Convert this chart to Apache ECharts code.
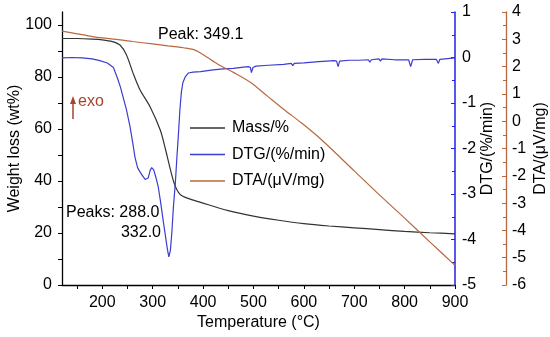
<!DOCTYPE html>
<html><head><meta charset="utf-8">
<script src="https://cdn.jsdelivr.net/npm/echarts@6/dist/echarts.min.js"></script>
<style>html,body{margin:0;padding:0;background:#fff}#c{width:550px;height:337px}</style>
</head><body><div id="c"></div>
<script>
const massT = [120,150,180,200,220,235,248,261,275,295,315,325,335,342,348,355,370,395,450,500,550,600,650,700,750,800,850,900];
const massV = [94.8,94.8,94.6,94.3,93.6,92.3,88.5,81.5,75,68.5,59.6,52.5,44.5,39.5,36.6,34.7,33.3,31.8,28.6,26.5,24.9,23.6,22.7,22.0,21.3,20.6,20.1,19.7];

const dtgT = [120,140,160,180,195,210,222,230,236,241,248,255,260,265,270,275,280,285,288,291,295,298,302,306,311,316,321,325,329,332,335,338,341,345,348,351,354,357,360,365,371,380,395,420,440,460,480,490,494,496,499,505,530,560,575,578,581,600,630,660,665,668,671,690,710,728,731,734,749,752,755,780,800,808,812,816,840,863,867,870,890,900];
const dtgV = [-0.01,0.0,-0.01,-0.03,-0.07,-0.12,-0.22,-0.45,-0.65,-0.86,-1.15,-1.52,-1.85,-2.2,-2.42,-2.52,-2.6,-2.68,-2.71,-2.65,-2.48,-2.42,-2.47,-2.62,-2.84,-3.2,-3.6,-3.9,-4.2,-4.38,-4.25,-3.85,-3.3,-2.75,-2.2,-1.7,-1.15,-0.75,-0.55,-0.42,-0.34,-0.32,-0.31,-0.27,-0.25,-0.24,-0.21,-0.2,-0.22,-0.33,-0.22,-0.19,-0.17,-0.15,-0.13,-0.18,-0.13,-0.12,-0.09,-0.07,-0.08,-0.2,-0.08,-0.06,-0.06,-0.05,-0.1,-0.05,-0.03,-0.08,-0.03,-0.05,-0.05,-0.05,-0.2,-0.05,-0.04,-0.04,-0.13,-0.04,-0.02,-0.01];

const dtaT = [120,150,180,200,228,260,300,330,349,361,380,395,409,430,461,495,529,561,595,635,700,750,800,850,900];
const dtaV = [3.3,3.2,3.1,3.05,3.0,2.92,2.83,2.76,2.72,2.69,2.63,2.5,2.33,2.08,1.78,1.41,0.9,0.42,-0.06,-0.68,-1.82,-2.7,-3.55,-4.42,-5.28];

const xLabels = [200,300,400,500,600,700,800,900];
const xTicks = [150,200,250,300,350,400,450,500,550,600,650,700,750,800,850,900];
const yLabels = [0,20,40,60,80,100];
const yTicks = [0,10,20,30,40,50,60,70,80,90,100];

const zip = (a,b) => a.map((t,i) => [t,b[i]]);
const FONT = 'Liberation Sans, Arial, sans-serif';
const FS = 16;
const C_MASS = '#333333', C_DTG = '#3c3cd0', C_DTA = '#b8683f';
const AX_DTG = '#1f1fe6', AX_DTA = '#b8683f';

const chart = echarts.init(document.getElementById('c'), null, {renderer:'canvas'});
chart.setOption({
  animation:false,
  backgroundColor:'#fff',
  textStyle:{fontFamily:FONT},
  grid:{left:62,right:95,top:12,bottom:52,containLabel:false,outerBoundsMode:'none'},
  legend:{
    orient:'vertical', left:190, top:120, padding:0, icon:'rect', itemWidth:35, itemHeight:1.3, itemGap:10.5,
    textStyle:{fontSize:FS,color:'#000',fontFamily:FONT,padding:[0,0,0,2]},
    data:['Mass/%','DTG/(%/min)','DTA/(\u03bcV/mg)']
  },
  xAxis:{
    type:'value', min:120, max:900,
    name:'Temperature (\u00b0C)', nameLocation:'middle', nameGap:30, nameMoveOverlap:false,
    nameTextStyle:{fontSize:FS,color:'#000',fontFamily:FONT},
    axisLine:{lineStyle:{color:'#000',width:1.3}},
    axisTick:{show:true,inside:false,length:4,customValues:xTicks,lineStyle:{color:'#000'}},
    axisLabel:{customValues:xLabels,fontSize:FS,color:'#000',margin:10,fontFamily:FONT},
    splitLine:{show:false}
  },
  yAxis:[
    {type:'value', min:0, max:105, position:'left',
     name:'Weight loss (wt%)', nameLocation:'middle', nameGap:39, nameMoveOverlap:false,
     nameTextStyle:{fontSize:FS,color:'#000',fontFamily:FONT},
     axisLine:{show:true,lineStyle:{color:'#000',width:1.3}},
     axisTick:{show:true,length:4,customValues:yTicks,lineStyle:{color:'#000'}},
     axisLabel:{customValues:yLabels,fontSize:FS,color:'#000',margin:10,fontFamily:FONT},
     splitLine:{show:false}},
    {type:'value', min:-5, max:1, interval:1, position:'right',
     name:'DTG/(%/min)', nameLocation:'middle', nameGap:25, nameMoveOverlap:false,
     nameTextStyle:{fontSize:FS,color:'#000',fontFamily:FONT},
     axisLine:{show:true,lineStyle:{color:AX_DTG,width:1.5}},
     axisTick:{show:true,inside:true,length:4,lineStyle:{color:AX_DTG}},
     minorTick:{show:true,splitNumber:2,length:3,lineStyle:{color:AX_DTG}},
     axisLabel:{fontSize:FS,color:'#000',margin:7,fontFamily:FONT},
     splitLine:{show:false}},
    {type:'value', min:-6, max:4, interval:1, position:'right', offset:51,
     name:'DTA/(\u03bcV/mg)', nameLocation:'middle', nameGap:27, nameMoveOverlap:false,
     nameTextStyle:{fontSize:FS,color:'#000',fontFamily:FONT},
     axisLine:{show:true,lineStyle:{color:AX_DTA,width:1.3}},
     axisTick:{show:true,inside:true,length:4,lineStyle:{color:AX_DTA}},
     minorTick:{show:true,splitNumber:2,length:3,lineStyle:{color:AX_DTA}},
     axisLabel:{fontSize:FS,color:'#000',margin:6,fontFamily:FONT},
     splitLine:{show:false}}
  ],
  series:[
    {name:'Mass/%', type:'line', yAxisIndex:0, data:zip(massT,massV), symbol:'none', smooth:0.3,
     lineStyle:{color:C_MASS,width:1.2}, itemStyle:{color:C_MASS}},
    {name:'DTG/(%/min)', type:'line', yAxisIndex:1, data:zip(dtgT,dtgV), symbol:'none', smooth:false,
     lineStyle:{color:C_DTG,width:1.2}, itemStyle:{color:C_DTG}},
    {name:'DTA/(\u03bcV/mg)', type:'line', yAxisIndex:2, data:zip(dtaT,dtaV), symbol:'none', smooth:0.3,
     lineStyle:{color:C_DTA,width:1.2}, itemStyle:{color:C_DTA}}
  ],
  graphic:[
    {type:'line', shape:{x1:73,y1:119,x2:73,y2:103}, style:{stroke:'#a8452c',lineWidth:1.5}},
    {type:'polygon', shape:{points:[[73,96],[70,104],[76,104]]}, style:{fill:'#a8452c'}},
    {type:'text', left:78, top:94, style:{text:'exo',fontSize:FS,fill:'#a8452c',fontFamily:FONT}},
    {type:'text', left:158, top:27, style:{text:'Peak: 349.1',fontSize:FS,fill:'#000',fontFamily:FONT}},
    {type:'text', left:66, top:205, style:{text:'Peaks: 288.0',fontSize:FS,fill:'#000',fontFamily:FONT}},
    {type:'text', right:389, top:225, style:{text:'332.0',fontSize:FS,fill:'#000',fontFamily:FONT}}
  ]
});
</script></body></html>
